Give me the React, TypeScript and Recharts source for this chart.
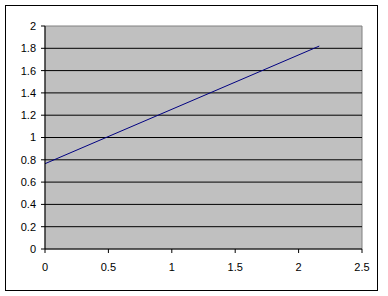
import React from "react";
import { LineChart, Line, XAxis, YAxis, ReferenceArea, ReferenceLine } from "recharts";

const xValues = [0, 2.163];
const yValues = [0.765, 1.82];
const xTicks = [0, 0.5, 1, 1.5, 2, 2.5];
const yTicks = [0, 0.2, 0.4, 0.6, 0.8, 1, 1.2, 1.4, 1.6, 1.8, 2];
const gridValues = [0.2, 0.4, 0.6, 0.8, 1, 1.2, 1.4, 1.6, 1.8];

const data = xValues.map((x, i) => ({ x, y: yValues[i] }));

const font = { fontFamily: "'Liberation Sans', Arial, sans-serif", fontSize: 11, fill: "#000" };

export default function App() {
  return (
    <div style={{ position: "absolute", left: 0, top: 0, width: 388, height: 296, background: "#fff" }}>
      <div
        style={{
          position: "absolute",
          left: 5,
          top: 5,
          width: 373,
          height: 286,
          border: "1px solid #000",
          boxSizing: "border-box",
        }}
      />
      <div style={{ position: "absolute", left: 0, top: 0 }}>
        <LineChart width={388} height={296} data={data} margin={{ top: 26, right: 26, bottom: 17, left: 0 }}>
          <ReferenceArea
            x1={0}
            x2={2.5}
            y1={0}
            y2={2}
            fill="#C0C0C0"
            fillOpacity={1}
            stroke="#808080"
            strokeWidth={1}
            ifOverflow="visible"
          />
          {gridValues.map((v) => (
            <ReferenceLine key={v} y={v} stroke="#000" strokeWidth={1} />
          ))}
          <XAxis
            type="number"
            dataKey="x"
            domain={[0, 2.5]}
            ticks={xTicks}
            tickFormatter={(v: number) => String(v)}
            stroke="#000"
            tickSize={4}
            tickMargin={10}
            height={30}
            tick={font}
            axisLine={{ stroke: "#000" }}
            tickLine={{ stroke: "#000" }}
            allowDataOverflow
          />
          <YAxis
            type="number"
            domain={[0, 2]}
            ticks={yTicks}
            tickFormatter={(v: number) => String(v)}
            width={45}
            tickSize={4}
            tickMargin={5}
            tick={font}
            axisLine={{ stroke: "#000" }}
            tickLine={{ stroke: "#000" }}
            allowDataOverflow
          />
          <Line type="linear" dataKey="y" stroke="#000080" strokeWidth={1} dot={false} isAnimationActive={false} />
        </LineChart>
      </div>
    </div>
  );
}
